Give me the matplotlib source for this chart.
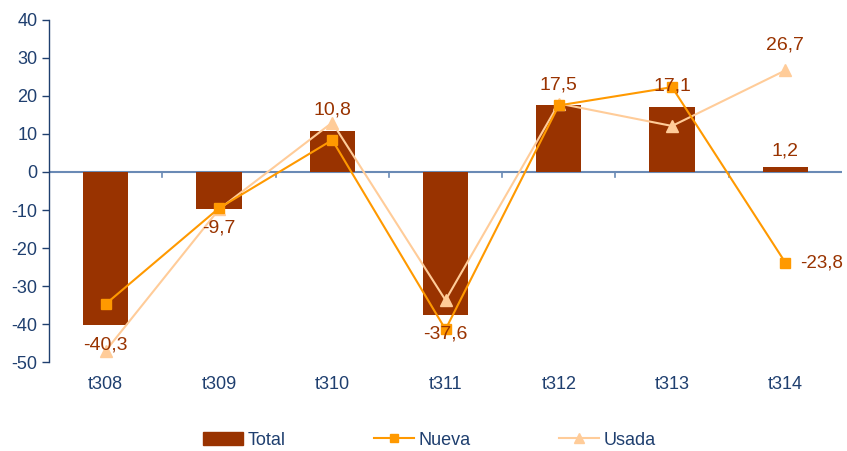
import matplotlib
matplotlib.use("Agg")
import matplotlib.pyplot as plt
from matplotlib.lines import Line2D
from matplotlib.patches import Patch

plt.rcParams["font.family"] = ["Liberation Sans", "DejaVu Sans"]

# Data
periods = ["t308", "t309", "t310", "t311", "t312", "t313", "t314"]
total = [-40.3, -9.7, 10.8, -37.6, 17.5, 17.1, 1.2]
nueva = [-34.7, -9.5, 8.4, -41.4, 17.5, 22.3, -23.8]
usada = [-47.0, -9.8, 13.0, -33.7, 18.0, 12.1, 26.7]
y_ticks = list(range(-50, 41, 10))

BAR = "#993300"
NUEVA = "#FF9900"
USADA = "#FFCC99"
LABEL = "#993300"
AXIS_TXT = "#1F3F6F"
ZERO = "#6A8AB5"

fig = plt.figure(figsize=(8.47, 4.51), dpi=100)
ax = fig.add_axes([0.058, 0.197, 0.936, 0.759])

x = list(range(len(periods)))
ax.bar(x, total, width=0.40, color=BAR, zorder=2)
ax.plot(x, nueva, color=NUEVA, marker="s", markersize=7, linewidth=1.5, zorder=4)
ax.plot(x, usada, color=USADA, marker="^", markersize=8, linewidth=1.5, zorder=3)

ax.set_xlim(-0.5, len(periods) - 0.5)
ax.set_ylim(-50, 40)
ax.set_yticks(y_ticks)
ax.set_yticklabels([str(v) for v in y_ticks])

for s in ("top", "right", "bottom"):
    ax.spines[s].set_visible(False)
ax.spines["left"].set_color(AXIS_TXT)
ax.spines["left"].set_linewidth(1.0)
ax.axhline(0, color=ZERO, linewidth=1.5, zorder=1)

# category boundary ticks on the zero line
for b in range(1, len(periods)):
    ax.plot([b - 0.5, b - 0.5], [0, -1.2], color=ZERO, linewidth=1.2, zorder=1)

ax.tick_params(axis="y", colors=AXIS_TXT, labelsize=13, length=5, width=1.0, direction="out")
ax.set_xticks(x)
ax.set_xticklabels(periods)
ax.tick_params(axis="x", colors=AXIS_TXT, labelsize=13, length=0, pad=10)


def fmt(v):
    return f"{v:.1f}".replace(".", ",")


# data labels for Total
for i, v in enumerate(total):
    dy = 15 if v > 0 else -14
    if 0 < v < 5:
        dy = 12
    ax.annotate(fmt(v), (i, v), xytext=(0, dy), textcoords="offset points",
                ha="center", va="center", color=LABEL, fontsize=14, zorder=5)

# last-point labels of the lines
ax.annotate(fmt(usada[-1]), (x[-1], usada[-1]), xytext=(0, 18), textcoords="offset points",
            ha="center", va="center", color=LABEL, fontsize=14)
ax.annotate(fmt(nueva[-1]), (x[-1], nueva[-1]), xytext=(11, 0), textcoords="offset points",
            ha="left", va="center", color=LABEL, fontsize=13.5)

handles = [
    Patch(facecolor=BAR, edgecolor=BAR),
    Line2D([], [], color=NUEVA, marker="s", markersize=6, linewidth=1.5),
    Line2D([], [], color=USADA, marker="^", markersize=7, linewidth=1.5),
]
fig.legend(handles, ["Total", "Nueva", "Usada"], loc="center", ncol=3,
           bbox_to_anchor=(0.507, 0.024), frameon=False, fontsize=13,
           handlelength=2.2, handletextpad=0.25, columnspacing=4.9,
           labelcolor=AXIS_TXT, borderpad=0.2)

fig.savefig("out.png", dpi=100)
